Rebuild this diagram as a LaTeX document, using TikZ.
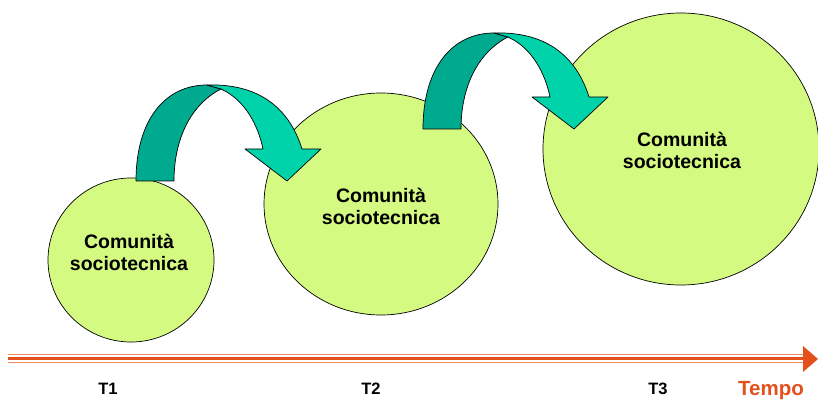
\documentclass[tikz,border=0pt]{standalone}
\usepackage{fontspec}
\setmainfont{Liberation Sans}
\usetikzlibrary{shapes.geometric}

\definecolor{commfill}{RGB}{212,250,130}
\definecolor{ribbondark}{RGB}{0,170,142}
\definecolor{ribbonlight}{RGB}{0,210,170}
\definecolor{timeorange}{RGB}{228,80,28}
\definecolor{timepale}{RGB}{240,135,95}

\tikzset{
  % curved ribbon arrow: back face (left leg) and front face (arch + head)
  pics/hop/.style={code={
    \draw[ribback] (0,0) .. controls (0,-61) and (29,-96) .. (71,-96)
      -- (85,-92) .. controls (54,-76) and (38,-41) .. (38,0) -- cycle;
    \draw[ribfront] (71,-96) .. controls (134,-98) and (157,-61) .. (166,-32)
      -- (185,-32) -- (151,0) -- (109,-32) -- (127,-32)
      .. controls (122,-56) and (109,-81) .. (85,-92) -- cycle;
  }}
}

\begin{document}
\begin{tikzpicture}[x=1pt,y=-1pt,
  community/.style={ellipse, draw=black, line width=0.7pt, fill=commfill, inner sep=0pt},
  commtext/.style={font=\fontsize{19.5}{22}\selectfont\bfseries, align=center},
  ribback/.style={fill=ribbondark, draw=black, line width=0.7pt, line join=round},
  ribfront/.style={fill=ribbonlight, draw=black, line width=0.7pt, line join=round},
  ticklabel/.style={font=\fontsize{16.5}{19}\selectfont\bfseries}
]
\useasboundingbox (0,0) rectangle (818,403);

% the three communities
\node[community, minimum width=166pt, minimum height=164pt] (c1) at (131,260) {};
\node[community, minimum width=234pt, minimum height=222pt] (c2) at (381,204) {};
\node[community, minimum width=276pt, minimum height=272pt] (c3) at (681,149) {};

\node[commtext] (t1) at (129,252) {Comunità\\sociotecnica};
\node[commtext] (t2) at (381,206) {Comunità\\sociotecnica};
\node[commtext] (t3) at (682,150) {Comunità\\sociotecnica};

% transitions between communities
\pic at (136,181) {hop};
\pic at (423,129) {hop};

% time axis
\coordinate (ax0) at (8,358.5);
\coordinate (ax1) at (803,358.5);
\coordinate (ax0t) at (8,354.6);
\coordinate (ax1t) at (803,354.6);
\coordinate (ax0b) at (8,362.4);
\coordinate (ax1b) at (803,362.4);
\draw[timepale, line width=1.4pt] (ax0t) -- (ax1t);
\draw[timepale, line width=1.4pt] (ax0b) -- (ax1b);
\draw[timeorange, line width=3pt] (ax0) -- (ax1);
\coordinate (tipa) at (803,346);
\coordinate (tipb) at (818,359);
\coordinate (tipc) at (803,372);
\fill[timeorange] (tipa) -- (tipb) -- (tipc) -- cycle;

\node[ticklabel] (l1) at (108,389) {T1};
\node[ticklabel] (l2) at (371,389) {T2};
\node[ticklabel] (l3) at (658,389) {T3};
\node[font=\fontsize{20.5}{24}\selectfont\bfseries, text=timeorange] (tempo) at (771,391) {Tempo};
\end{tikzpicture}
\end{document}
